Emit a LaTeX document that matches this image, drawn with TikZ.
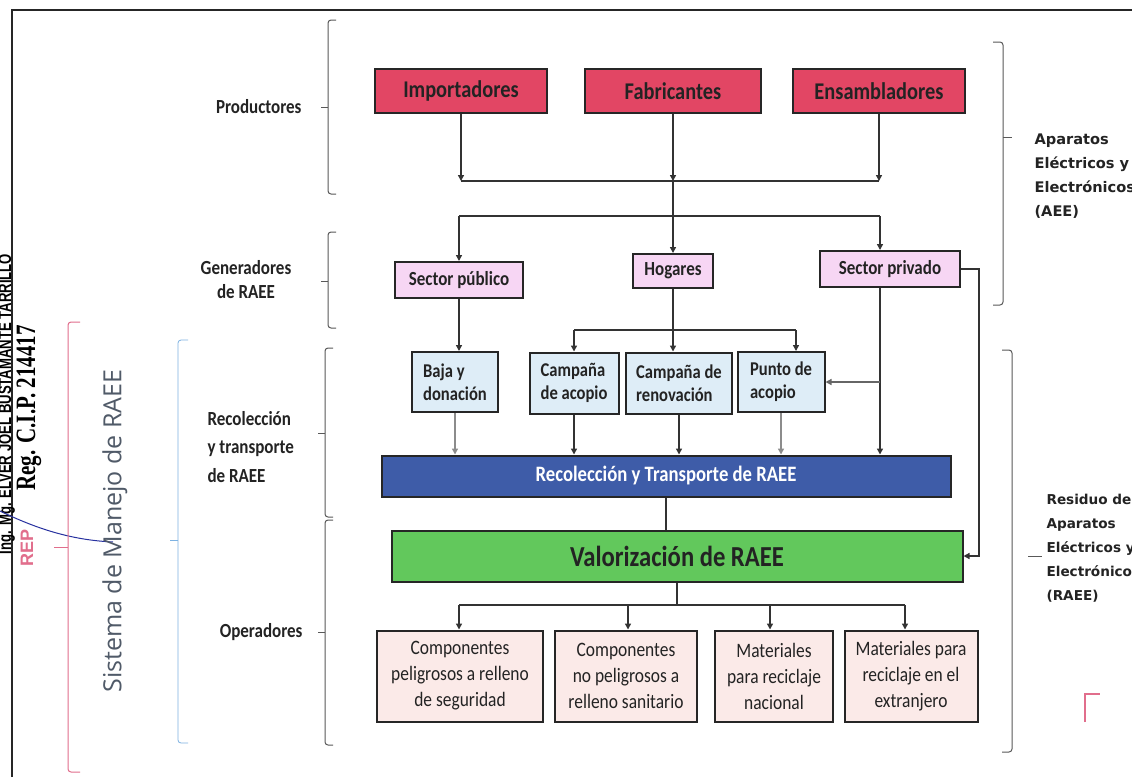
\documentclass[tikz,border=0pt]{standalone}
\usepackage{fontspec}
\setmainfont[FakeStretch=0.85]{Carlito}
\newfontfamily\dvfont{DejaVu Sans}
\newfontfamily\osfont{Open Sans}
\newfontfamily\stampfont[FakeStretch=0.75]{Liberation Serif}
\newfontfamily\namefont[FakeStretch=0.73]{Liberation Sans}
\newfontfamily\repfont{Liberation Sans}
\usetikzlibrary{arrows.meta}
\definecolor{prodred}{RGB}{226,70,100}
\definecolor{genpink}{RGB}{247,214,244}
\definecolor{recblue}{RGB}{222,237,247}
\definecolor{barblue}{RGB}{62,92,168}
\definecolor{valgreen}{RGB}{98,200,92}
\definecolor{outpink}{RGB}{251,234,232}
\definecolor{bracepink}{RGB}{225,110,140}
\definecolor{braceblue}{RGB}{125,178,226}
\definecolor{txt}{RGB}{35,35,35}
\definecolor{sistema}{RGB}{80,90,104}
\definecolor{sigblue}{RGB}{40,50,160}
\newcommand\braceL[5][black!65]{%
  \draw[#1, line width=1pt, rounded corners=3pt] ({#2+8},#3) -- (#2,#3) -- (#2,#5) -- ({#2+8},#5);
  \draw[#1, line width=1pt] (#2,#4) -- ({#2-7},#4);}
\newcommand\braceR[5][black!65]{%
  \draw[#1, line width=1pt, rounded corners=3pt] ({#2-10},#3) -- (#2,#3) -- (#2,#5) -- ({#2-10},#5);}
\begin{document}
\begin{tikzpicture}[x=1pt,y=-1pt,
  boxbase/.style={draw=black!85, line width=2pt, inner sep=2pt, text=txt},
  prod/.style={boxbase, fill=prodred, minimum height=44pt, font=\fontsize{24}{26}\selectfont\bfseries},
  gen/.style={boxbase, fill=genpink, minimum height=36pt, font=\fontsize{20}{22}\selectfont\bfseries},
  rec/.style={boxbase, fill=recblue, minimum height=60pt, align=left, font=\fontsize{19.5}{23}\selectfont\bfseries},
  outb/.style={boxbase, fill=outpink, minimum height=91pt, align=center, font=\fontsize{20.5}{26}\selectfont},
  lab/.style={text=txt, font=\fontsize{20}{24}\selectfont\bfseries},
  rlab/.style={text=txt, align=left, font=\dvfont\fontsize{14.6}{24}\selectfont\bfseries},
  conn/.style={line width=1.4pt, draw=black!80},
  arr/.style={conn, -{Triangle[length=6pt,width=6pt]}},
  garr/.style={arr, draw=black!45}]
\useasboundingbox (0,0) rectangle (1132,777);
\clip (0,0) rectangle (1132,777);
\fill[white] (0,0) rectangle (1132,777);

% frame
\draw[line width=2pt, black!85] (12,777) -- (12,10) -- (1132,10);

% stamp
\node[rotate=90, anchor=base, font=\namefont\fontsize{18}{18}\selectfont\bfseries] (name) at (11,404) {Ing. Mg. ELVER JOEL BUSTAMANTE TARRILLO};
\node[rotate=90, font=\stampfont\fontsize{28}{28}\selectfont\bfseries] (reg) at (29,408) {Reg. C.I.P. 214417};
\node[rotate=90, text=bracepink, font=\repfont\fontsize{18}{18}\selectfont\bfseries] (rep) at (27,548) {REP};
\draw[sigblue, line width=1pt] (0,511) .. controls (35,528) and (70,540) .. (113,542);

% left braces
\draw[bracepink, line width=1pt, rounded corners=3pt] (80,322) -- (68,322) -- (68,772) -- (80,772);
\draw[bracepink, line width=1pt] (68,547) -- (54,547);
\draw[braceblue, line width=0.8pt, rounded corners=3pt] (188,340) -- (178,340) -- (178,743) -- (188,743);
\draw[braceblue, line width=0.8pt] (178,540) -- (170,540);
\node[rotate=90, text=sistema, font=\osfont\fontsize{25}{25}\selectfont] (sis) at (115,531) {Sistema de Manejo de RAEE};

\braceL{328}{20}{107}{194}
\braceL{328}{232}{281}{328}
\braceL{325}{348}{433}{517}
\braceL{325}{520}{632}{745}

\node[lab, anchor=east] (lprod) at (305,107) {Productores};
\node[lab, align=center] (lgen) at (246,280) {Generadores\\de RAEE};
\node[lab, align=left, anchor=west, font=\fontsize{20}{28.5}\selectfont\bfseries] (lrec) at (204,447) {Recolección\\y transporte\\de RAEE};
\node[lab, anchor=east] (lope) at (306,632) {Operadores};

% right brackets
\braceR{1003}{42}{137}{305}
\draw[black!65, line width=1pt] (1003,137) -- (1012,137);
\braceR{1012}{350}{556}{752}
\draw[black!65, line width=1pt] (1028,556) -- (1042,556);
\node[rlab, anchor=west] (laee) at (1031,176) {Aparatos\\Eléctricos y\\Electrónicos\\(AEE)};
\node[rlab, anchor=west, font=\dvfont\fontsize{13.6}{24}\selectfont\bfseries] (lraee) at (1043,548) {Residuo de\\Aparatos\\Eléctricos y\\Electrónicos\\(RAEE)};
\draw[bracepink, line width=1.5pt] (1085,722) -- (1085,694) -- (1100,694);

% producers
\node[prod, minimum width=172pt] (imp) at (461,91) {Importadores};
\node[prod, minimum width=176pt] (fab) at (673,91) {Fabricantes};
\node[prod, minimum width=172pt] (ens) at (879,91) {Ensambladores};

% generators
\node[gen, minimum width=128pt] (spub) at (459,280) {Sector público};
\node[gen, minimum width=80pt, minimum height=34pt] (hog) at (673,271) {Hogares};
\node[gen, minimum width=140pt] (spriv) at (890,269) {Sector privado};

% collection points
\node[rec, minimum width=86pt] (baja) at (455,382) {Baja y\\donación};
\node[rec, minimum width=89pt, minimum height=61pt] (cacop) at (574,383) {Campaña\\de acopio};
\node[rec, minimum width=106pt, minimum height=61pt] (creno) at (679,383) {Campaña de\\renovación};
\node[rec, minimum width=87pt] (punto) at (781,382) {Punto de\\acopio};

% bars
\node[boxbase, fill=barblue, text=white, minimum width=569pt, minimum height=41pt, font=\fontsize{22}{24}\selectfont\bfseries] (blue) at (666,476) {Recolección y Transporte de RAEE};
\node[boxbase, fill=valgreen, minimum width=571pt, minimum height=51pt, font=\fontsize{29}{30}\selectfont\bfseries] (green) at (677,556) {Valorización de RAEE};

% outputs
\node[outb, minimum width=166pt] (o1) at (460,676) {Componentes\\peligrosos a relleno\\de seguridad};
\node[outb, minimum width=142pt] (o2) at (626,676) {Componentes\\no peligrosos a\\relleno sanitario};
\node[outb, minimum width=118pt] (o3) at (774,676) {Materiales\\para reciclaje\\nacional};
\node[outb, minimum width=133pt] (o4) at (911,676) {Materiales para\\reciclaje en el\\extranjero};

% producers -> merge line
\coordinate (pl) at (461,181);
\coordinate (pr) at (879,181);
\coordinate (pm) at (673,181);
\draw[conn] (pl) -- (pr);
\draw[arr] (imp.south) -- (pl);
\draw[arr] (fab.south) -- (pm);
\draw[arr] (ens.south) -- (pr);
\draw[arr] (pm) -- (hog.north);

% distribution line
\coordinate (gl) at (459,216);
\coordinate (gr) at (880,216);
\draw[conn] (gl) -- (gr);
\draw[arr] (gl) -- (spub.north);
\draw[arr] (gr) -- (gr |- spriv.north);

% generators -> collection
\draw[arr] (spub.south) -- (spub.south |- baja.north);
\coordinate (h1) at (574,330);
\coordinate (h3) at (796,330);
\draw[conn] (h1) -- (h3);
\draw[arr] (h1) -- (h1 |- cacop.north);
\draw[arr] (h3) -- (h3 |- punto.north);
\draw[arr] (hog.south) -- (hog.south |- creno.north);
\draw[arr] (gr |- spriv.south) -- (gr |- blue.north);
\draw[arr, draw=black!60] (gr |- punto.east) -- (punto.east);
\draw[arr] (spriv.east) -- ++(18,0) |- (green.east);

% collection -> bar
\draw[garr] (baja.south) -- (baja.south |- blue.north);
\draw[arr] (cacop.south) -- (cacop.south |- blue.north);
\draw[arr] (creno.south) -- (creno.south |- blue.north);
\draw[garr] (punto.south) -- (punto.south |- blue.north);

% bar -> valorization
\draw[conn] (blue.south) -- (blue.south |- green.north);

% valorization -> outputs
\coordinate (c1) at (459,605);
\coordinate (c2) at (628,605);
\coordinate (c3) at (770,605);
\coordinate (c4) at (905,605);
\draw[conn] (green.south) -- (green.south |- c1);
\draw[conn] (c1) -- (c4);
\draw[arr] (c1) -- (c1 |- o1.north);
\draw[arr] (c2) -- (c2 |- o2.north);
\draw[arr] (c3) -- (c3 |- o3.north);
\draw[arr] (c4) -- (c4 |- o4.north);
\end{tikzpicture}
\end{document}
